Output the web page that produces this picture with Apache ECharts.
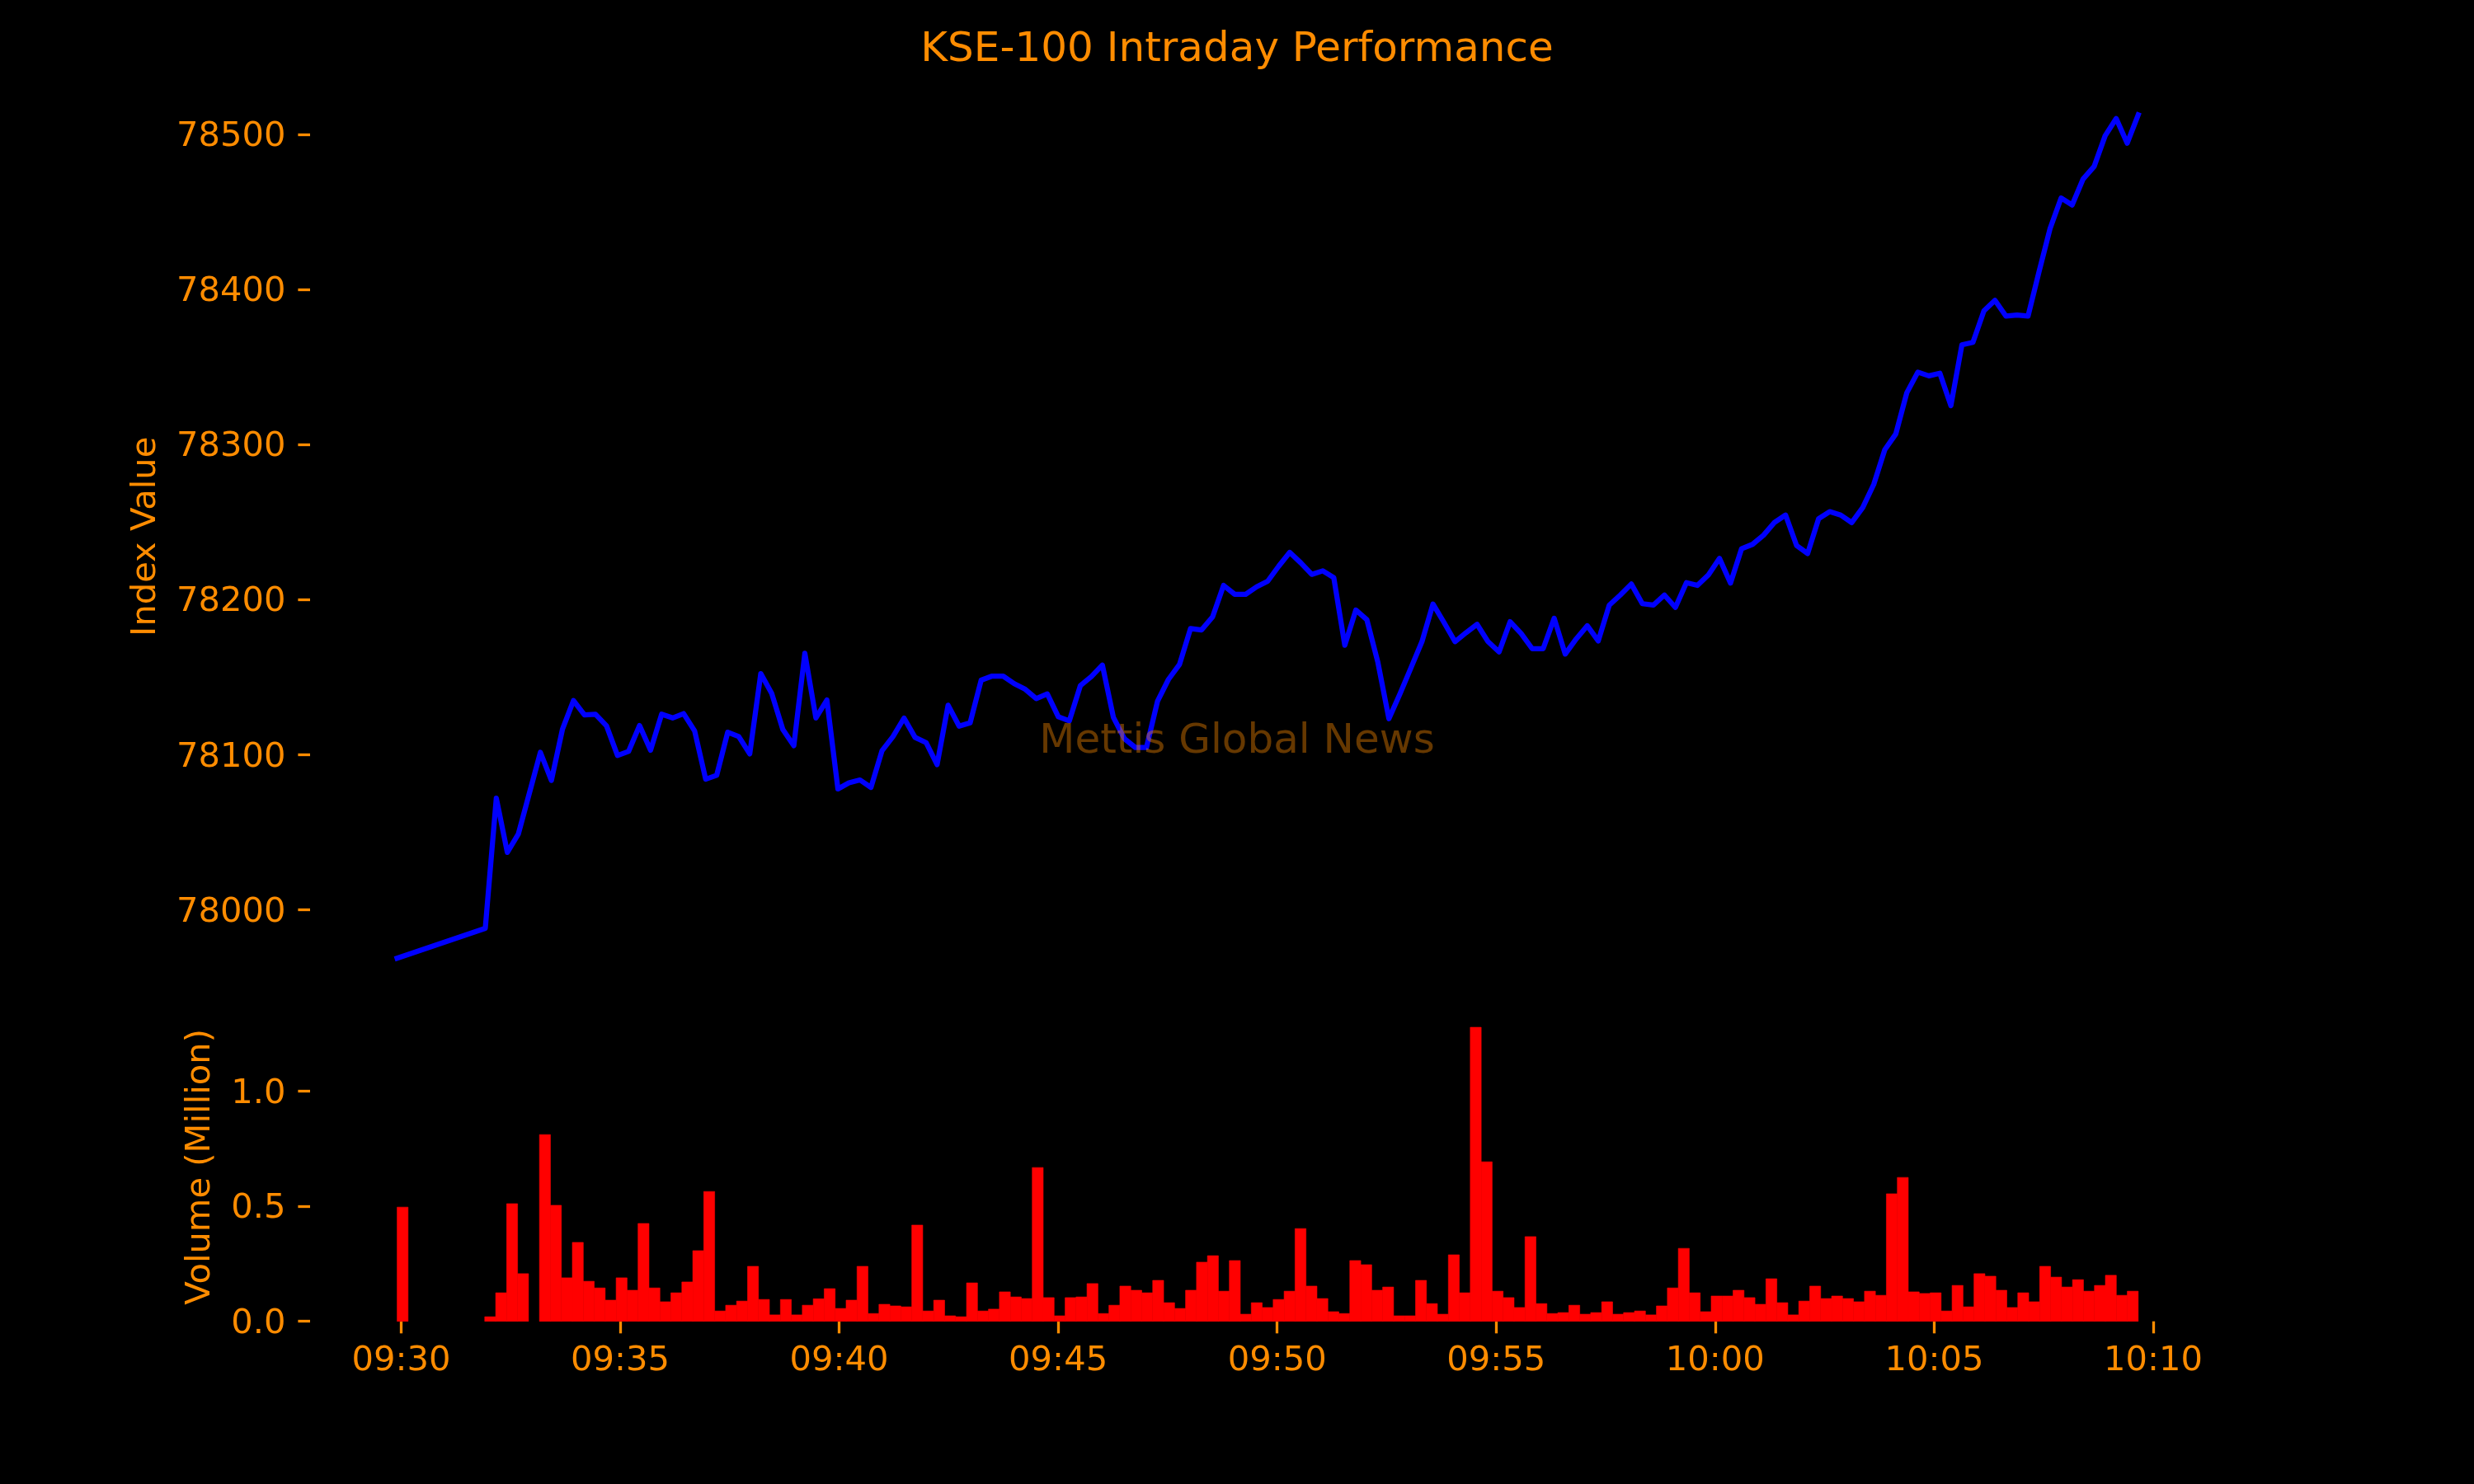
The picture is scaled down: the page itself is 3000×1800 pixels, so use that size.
<!DOCTYPE html>
<html>
<head>
<meta charset="utf-8">
<script src="https://cdn.jsdelivr.net/npm/echarts@6/dist/echarts.min.js"></script>
<style>
html,body{margin:0;padding:0;background:#000;}
#chart{width:3000px;height:1800px;}
</style>
</head>
<body>
<div id="chart"></div>
<script>
// ---------------- data ----------------
const times = [
"09:30:02",
"09:32:02","09:32:17","09:32:32","09:32:47",
"09:33:17","09:33:32","09:33:47",
"09:34:02","09:34:17","09:34:32","09:34:47",
"09:35:02","09:35:17","09:35:32","09:35:47",
"09:36:02","09:36:17","09:36:32","09:36:47",
"09:37:02","09:37:17","09:37:32","09:37:47",
"09:38:02","09:38:17","09:38:32","09:38:47",
"09:39:02","09:39:17","09:39:32","09:39:47",
"09:40:02","09:40:17","09:40:32","09:40:47",
"09:41:02","09:41:17","09:41:32","09:41:47",
"09:42:02","09:42:17","09:42:32","09:42:47",
"09:43:02","09:43:17","09:43:32","09:43:47",
"09:44:02","09:44:17","09:44:32","09:44:47",
"09:45:02","09:45:17","09:45:32","09:45:47",
"09:46:02","09:46:17","09:46:32","09:46:47",
"09:47:02","09:47:17","09:47:32","09:47:47",
"09:48:02","09:48:17","09:48:32","09:48:47",
"09:49:02","09:49:17","09:49:32","09:49:47",
"09:50:02","09:50:17","09:50:32","09:50:47",
"09:51:02","09:51:17","09:51:32","09:51:47",
"09:52:02","09:52:17","09:52:32","09:52:47",
"09:53:02","09:53:17","09:53:32","09:53:47",
"09:54:02","09:54:17","09:54:32","09:54:47",
"09:55:02","09:55:17","09:55:32","09:55:47",
"09:56:02","09:56:17","09:56:32","09:56:47",
"09:57:02","09:57:17","09:57:32","09:57:47",
"09:58:02","09:58:17","09:58:32","09:58:47",
"09:59:02","09:59:17","09:59:32","09:59:47",
"10:00:02","10:00:17","10:00:32","10:00:47",
"10:01:02","10:01:17","10:01:32","10:01:47",
"10:02:02","10:02:17","10:02:32","10:02:47",
"10:03:02","10:03:17","10:03:32","10:03:47",
"10:04:02","10:04:17","10:04:32","10:04:47",
"10:05:02","10:05:17","10:05:32","10:05:47",
"10:06:02","10:06:17","10:06:32","10:06:47",
"10:07:02","10:07:17","10:07:32","10:07:47",
"10:08:02","10:08:17","10:08:32","10:08:47",
"10:09:02","10:09:17","10:09:32"
];

const indexValues = [
77968.6,
77987.9, 78071.9, 78036.9, 78048.7,
78101.4, 78083.3, 78116.2,
78134.8, 78125.6, 78126.0, 78118.5,
78099.4, 78102.0, 78118.7, 78102.8,
78126.0, 78123.6, 78126.4, 78115.2,
78084.1, 78086.6, 78114.4, 78111.6,
78100.4, 78152.2, 78139.3, 78116.2,
78105.7, 78165.3, 78123.6, 78135.2,
78077.8, 78081.8, 78083.6, 78078.8,
78102.4, 78111.6, 78123.5, 78111.1,
78107.7, 78093.5, 78131.8, 78118.3,
78120.5, 78148.0, 78150.6, 78150.6,
78145.7, 78142.1, 78136.1, 78139.1,
78124.4, 78121.7, 78144.4, 78150.3,
78157.7, 78124.0, 78110.2, 78104.5,
78104.5, 78134.3, 78148.5, 78158.1,
78181.3, 78180.4, 78188.8, 78209.1,
78203.4, 78203.4, 78208.2, 78211.8,
78221.5, 78230.4, 78223.7, 78216.2,
78218.5, 78214.1, 78170.5, 78193.2,
78187.0, 78159.5, 78123.1, 78139.1,
78155.9, 78172.8, 78197.1, 78185.2,
78172.8, 78178.6, 78184.0, 78172.8,
78166.2, 78185.7, 78178.1, 78168.3,
78168.3, 78187.9, 78164.8, 78174.6,
78183.1, 78173.3, 78196.4, 78202.9,
78210.0, 78197.3, 78196.4, 78202.9,
78194.9, 78210.9, 78209.1, 78215.9,
78226.5, 78210.6, 78232.7, 78235.6,
78241.5, 78249.8, 78254.5, 78234.8,
78229.7, 78252.2, 78256.7, 78254.5,
78249.6, 78259.3, 78274.3, 78296.6,
78306.8, 78333.4, 78346.7, 78344.3,
78346.0, 78325.1, 78364.3, 78365.9,
78386.3, 78393.0, 78382.8, 78383.5,
78382.8, 78411.5, 78439.3, 78459.0,
78454.5, 78471.3, 78479.4, 78499.2,
78510.3, 78494.4, 78512.7
];

// volume in millions
const volumes = [
0.496,
0.020, 0.124, 0.511, 0.207,
0.811, 0.504, 0.189,
0.343, 0.174, 0.145, 0.092,
0.189, 0.135, 0.425, 0.145,
0.085, 0.124, 0.171, 0.307,
0.564, 0.045, 0.070, 0.088,
0.239, 0.095, 0.028, 0.095,
0.028, 0.070, 0.098, 0.142,
0.056, 0.092, 0.239, 0.034,
0.074, 0.067, 0.063, 0.418,
0.045, 0.092, 0.024, 0.020,
0.167, 0.045, 0.053, 0.128,
0.106, 0.099, 0.668, 0.103,
0.024, 0.103, 0.106, 0.164,
0.034, 0.070, 0.153, 0.135,
0.124, 0.178, 0.081, 0.056,
0.135, 0.257, 0.285, 0.131,
0.264, 0.031, 0.081, 0.060,
0.095, 0.131, 0.403, 0.153,
0.099, 0.042, 0.034, 0.264,
0.246, 0.135, 0.149, 0.024,
0.024, 0.178, 0.077, 0.031,
0.289, 0.124, 1.277, 0.693,
0.131, 0.103, 0.060, 0.368,
0.077, 0.034, 0.038, 0.070,
0.031, 0.038, 0.085, 0.031,
0.038, 0.045, 0.028, 0.067,
0.145, 0.317, 0.124, 0.042,
0.110, 0.110, 0.135, 0.103,
0.074, 0.185, 0.081, 0.028,
0.088, 0.153, 0.099, 0.110,
0.099, 0.085, 0.131, 0.113,
0.554, 0.625, 0.128, 0.121,
0.124, 0.045, 0.156, 0.063,
0.207, 0.196, 0.135, 0.060,
0.124, 0.085, 0.239, 0.192,
0.149, 0.181, 0.131, 0.156,
0.200, 0.113, 0.131
];

const xTickLabels = ["09:30","09:35","09:40","09:45","09:50","09:55","10:00","10:05","10:10"];
const indexTicks = [78000, 78100, 78200, 78300, 78400, 78500];
const volumeTicks = [0.0, 0.5, 1.0];
const chartTitle = "KSE-100 Intraday Performance";
const watermarkText = "Mettis Global News";
const indexAxisName = "Index Value";
const volumeAxisName = "Volume (Million)";

// ---------------- build ----------------
const FONT = "DejaVu Sans";
const ORANGE = "#FF8C00";
const BAR_W = 15; // seconds, bar width

function toSec(s) { const p = s.split(":").map(Number); return p[0]*3600 + p[1]*60 + (p[2] || 0); }
function fmtHM(sec) {
  const h = Math.floor(sec / 3600), m = Math.round((sec % 3600) / 60);
  return String(h).padStart(2, "0") + ":" + String(m).padStart(2, "0");
}
const secs = times.map(toSec);
const xTicks = xTickLabels.map(toSec);
const lineData = secs.map((t, i) => [t, indexValues[i]]);
const volData = secs.map((t, i) => [t, volumes[i]]);

const tMin = Math.min(...secs), tMax = Math.max(...secs), tSpan = tMax - tMin;
const barSpan = tSpan + BAR_W;
const iMin = Math.min(...indexValues), iMax = Math.max(...indexValues), iSpan = iMax - iMin;
const vMax = Math.max(...volumes);

const tickStyle = { show: true, length: 14.6, inside: false, lineStyle: { color: ORANGE, width: 3.3 } };
const labelStyle = { color: ORANGE, fontSize: 41.67, fontFamily: FONT };
const yLabelStyle = Object.assign({}, labelStyle, { verticalAlign: "top", lineHeight: 7, margin: 29.5 });
const nameStyle = { color: ORANGE, fontSize: 41.67, fontFamily: FONT };

const chart = echarts.init(document.getElementById("chart"), null, { renderer: "canvas", width: 3000, height: 1800 });
chart.setOption({
  backgroundColor: "#000000",
  animation: false,
  title: {
    text: chartTitle, left: "center", top: 31,
    textStyle: { color: ORANGE, fontSize: 50, fontWeight: "normal", fontFamily: FONT }
  },
  grid: [
    { left: 376, top: 88.1, width: 2322.4, height: 1125.3 },
    { left: 376, top: 1228.2, width: 2322.4, height: 374.5 }
  ],
  xAxis: [
    { type: "value", gridIndex: 0, min: tMin - 0.05 * tSpan, max: tMax + 0.05 * tSpan, show: false },
    {
      type: "value", gridIndex: 1,
      min: tMin - BAR_W / 2 - 0.05 * barSpan, max: tMax + BAR_W / 2 + 0.05 * barSpan,
      axisLine: { show: false }, splitLine: { show: false },
      axisTick: Object.assign({}, tickStyle, { customValues: xTicks }),
      axisLabel: Object.assign({}, labelStyle, { customValues: xTicks, margin: 27, formatter: v => fmtHM(v) })
    }
  ],
  yAxis: [
    {
      type: "value", gridIndex: 0, min: iMin - 0.05 * iSpan, max: iMax + 0.05 * iSpan,
      name: indexAxisName, nameLocation: "middle", nameGap: 178, nameTextStyle: nameStyle,
      axisLine: { show: false }, splitLine: { show: false },
      axisTick: Object.assign({}, tickStyle, { customValues: indexTicks }),
      axisLabel: Object.assign({}, yLabelStyle, { customValues: indexTicks, formatter: v => String(Math.round(v)) })
    },
    {
      type: "value", gridIndex: 1, min: 0, max: vMax * 1.05,
      name: volumeAxisName, nameLocation: "middle", nameGap: 112, nameTextStyle: nameStyle,
      axisLine: { show: false }, splitLine: { show: false },
      axisTick: Object.assign({}, tickStyle, { customValues: volumeTicks }),
      axisLabel: Object.assign({}, yLabelStyle, { customValues: volumeTicks, formatter: v => v.toFixed(1) })
    }
  ],
  series: [
    {
      type: "line", name: "KSE-100", xAxisIndex: 0, yAxisIndex: 0, data: lineData,
      showSymbol: false, symbol: "none",
      lineStyle: { color: "#0000FF", width: 6.25, cap: "square", join: "round" }, z: 2
    },
    {
      type: "custom", name: "Volume", xAxisIndex: 1, yAxisIndex: 1, data: volData,
      encode: { x: 0, y: 1 },
      renderItem: function (params, api) {
        const t = api.value(0), v = api.value(1);
        const a = api.coord([t - BAR_W / 2, v]);
        const b = api.coord([t + BAR_W / 2, 0]);
        return {
          type: "rect",
          shape: { x: a[0], y: a[1], width: b[0] - a[0], height: b[1] - a[1] },
          style: { fill: "#FF0000", stroke: "#FF0000", lineWidth: 0.6 }
        };
      },
      z: 2
    }
  ],
  graphic: [
    {
      type: "text", x: 1500, y: 900.2, z: 100, zlevel: 0,
      style: {
        text: watermarkText, fill: "rgba(255,140,0,0.4)",
        font: '50px "DejaVu Sans"', align: "center", verticalAlign: "middle"
      }
    }
  ]
});
</script>
</body>
</html>
